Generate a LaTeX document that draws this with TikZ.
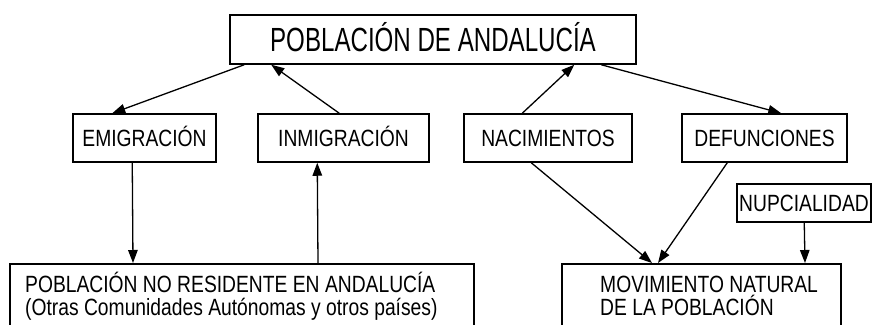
\documentclass[tikz,border=0pt]{standalone}
\usepackage{fontspec}
\setmainfont{Liberation Sans}[FakeStretch=0.72]
\newfontfamily\narrowfont{Liberation Sans}[FakeStretch=0.82]
\usetikzlibrary{arrows.meta}
\begin{document}
\begin{tikzpicture}[x=1pt,y=1pt,
  box/.style={draw, line width=1.5pt, inner sep=0pt, text height=16.8pt, text depth=0pt,
    font=\narrowfont\fontsize{23.5}{24}\selectfont},
  bigbox/.style={box, text height=24pt, font=\rmfamily\fontsize{33.5}{36}\selectfont},
  plainbox/.style={draw, line width=1.5pt, inner sep=0pt, anchor=north west},
  txt/.style={anchor=base west, inner sep=0pt, font=\narrowfont\fontsize{23.5}{24}\selectfont},
  conn/.style={line width=1.3pt, -{Triangle[length=13pt,width=9.5pt]}}]
\useasboundingbox (0,0) rectangle (872,-324);
\node[bigbox, minimum width=406pt, minimum height=49pt] (top) at (433,-39.5) {POBLACIÓN DE ANDALUCÍA};
\node[box, minimum width=143pt, minimum height=48pt] (emi) at (144.5,-138) {EMIGRACIÓN};
\node[box, minimum width=171pt, minimum height=48pt] (inm) at (343.5,-138) {INMIGRACIÓN};
\node[box, minimum width=168pt, minimum height=48pt] (nac) at (548,-138) {NACIMIENTOS};
\node[box, minimum width=165pt, minimum height=48pt] (def) at (764.5,-138) {DEFUNCIONES};
\node[box, minimum width=134pt, minimum height=38pt] (nup) at (804,-203) {NUPCIALIDAD};
\node[plainbox, minimum width=464pt, minimum height=80pt] (nr) at (9,-263) {};
\node[plainbox, minimum width=279pt, minimum height=80pt] (mov) at (561,-263) {};
\node[txt] (nr1) at (25,-292) {POBLACIÓN NO RESIDENTE EN ANDALUCÍA};
\node[txt] (nr2) at (25,-315) {(Otras Comunidades Autónomas y otros países)};
\node[txt] (mov1) at (600,-292) {MOVIMIENTO NATURAL};
\node[txt] (mov2) at (600,-315) {DE LA POBLACIÓN};
\draw[conn] ([xshift=15pt]top.south west) -- ([xshift=40pt]emi.north west);
\draw[conn] ([xshift=82pt]inm.north west) -- ([xshift=42pt]top.south west);
\draw[conn] ([xshift=59pt]nac.north west) -- ([xshift=345pt]top.south west);
\draw[conn] ([xshift=372pt]top.south west) -- ([xshift=100pt]def.north west);
\draw[conn] ([xshift=60pt]emi.south west) -- ([xshift=124pt]nr.north west);
\draw[conn] ([xshift=309pt]nr.north west) -- ([xshift=60pt]inm.south west);
\draw[conn] ([xshift=68pt]nac.south west) -- ([xshift=91pt]mov.north west);
\draw[conn] ([xshift=46pt]def.south west) -- ([xshift=97pt]mov.north west);
\draw[conn] ([xshift=68pt]nup.south west) -- ([xshift=244pt]mov.north west);
\end{tikzpicture}
\end{document}
